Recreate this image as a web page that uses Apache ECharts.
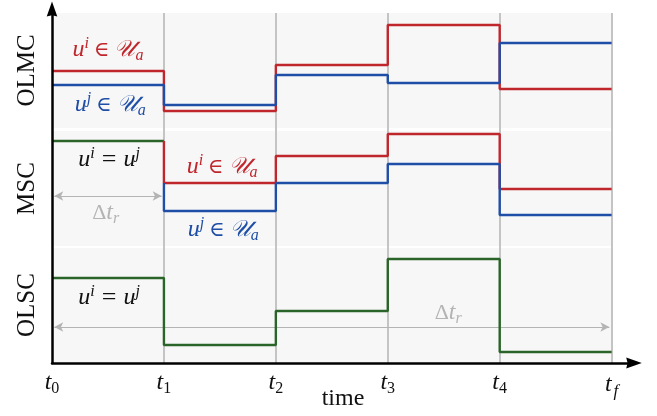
<!DOCTYPE html>
<html>
<head>
<meta charset="utf-8">
<script src="https://cdn.jsdelivr.net/npm/echarts@6/dist/echarts.min.js"></script>
<style>
html, body { margin: 0; padding: 0; background: #fff; }
#chart { width: 657px; height: 416px; }
</style>
</head>
<body>
<div id="chart"></div>
<script>
// time instants t0 .. tf
var tickLabels = ['0', '1', '2', '3', '4', 'f'];
var bandNames = ['OLMC', 'MSC', 'OLSC'];
// band ranges on the value axis (bottom, top)
var bandRanges = [[235, 350], [117, 232], [1, 115]];

// OLMC: both agents act on their own
var olmcRed = [292, 252, 298, 338, 274];
var olmcBlue = [278, 258, 288, 280, 320];
// MSC: shared first interval, then separate
var mscShared = [222];
var mscRed = [180, 207, 229, 174];
var mscBlue = [152, 180, 199, 148];
// OLSC: shared over the whole horizon
var olscShared = [85, 18, 52, 104, 11];

var RED = '#c0272d', BLUE = '#1f4ea6', GREEN = '#2a6428', GREY = '#b4b4b4';
var SERIF = '"Liberation Serif", "DejaVu Serif", serif';
var ARROW = 'path://M0,0 L6,17 L0,15.5 L-6,17 Z';

// build points for a step line (step: 'end'), starting at x0,
// optionally dropping from a previous level first
function stepPts(x0, vals, from) {
    var pts = [];
    if (from != null) pts.push([x0, from]);
    vals.forEach(function (v, i) { pts.push([x0 + i, v]); });
    pts.push([x0 + vals.length, vals[vals.length - 1]]);
    return pts;
}

function stepSeries(data, color) {
    return {
        type: 'line', step: 'end', data: data, symbol: 'none',
        lineStyle: { color: color, width: 2.4 }, z: 5, silent: true
    };
}

var myChart = echarts.init(document.getElementById('chart'));

var option = {
    animation: false,
    grid: { left: 52, right: 23, top: 13, bottom: 53, outerBoundsMode: 'none', containLabel: false },
    xAxis: {
        type: 'value', min: 0, max: 5.2, interval: 1, z: 10,
        name: 'time', nameLocation: 'middle', nameGap: 24, nameMoveOverlap: false,
        nameTextStyle: { fontFamily: SERIF, fontSize: 24, color: '#111' },
        axisLine: {
            show: true, onZero: false,
            lineStyle: { color: '#000', width: 2.5 },
            symbol: ['none', ARROW], symbolSize: [11, 17], symbolOffset: [0, 0]
        },
        axisTick: { show: false },
        splitLine: { show: false },
        axisLabel: {
            margin: 6,
            formatter: function (v) {
                if (v !== Math.round(v) || v > 5) return '';
                var sub = tickLabels[v];
                return '{t|t}{' + (sub === 'f' ? 'sf' : 's') + '|' + sub + '}';
            },
            rich: {
                t: { fontFamily: SERIF, fontStyle: 'italic', fontSize: 24, color: '#111' },
                s: { fontFamily: SERIF, fontSize: 16, color: '#111', padding: [12, 0, 0, 0] },
                sf: { fontFamily: SERIF, fontStyle: 'italic', fontSize: 17, color: '#111', padding: [14, 0, 0, 2] }
            }
        }
    },
    yAxis: {
        type: 'value', min: 0, max: 350, z: 10,
        axisLine: {
            show: true,
            lineStyle: { color: '#000', width: 2.5 },
            symbol: ['none', ARROW], symbolSize: [12, 15], symbolOffset: [0, 4]
        },
        axisTick: { show: false },
        axisLabel: { show: false },
        splitLine: { show: false }
    },
    series: [
        {
            type: 'line', data: [], silent: true, z: 1,
            markArea: {
                silent: true,
                label: { show: false },
                itemStyle: { color: '#f7f7f7', borderWidth: 0 },
                data: bandRanges.map(function (r) {
                    return [{ coord: [0, r[0]] }, { coord: [5, r[1]] }];
                })
            },
            markLine: {
                silent: true, symbol: 'none', label: { show: false },
                lineStyle: { color: '#c4c4c4', width: 2, type: 'solid' },
                data: [1, 2, 3, 4, 5].map(function (x) { return { xAxis: x }; })
            }
        },
        {
            type: 'line', data: [], silent: true, z: 2,
            markLine: {
                silent: true, symbol: ['arrow', 'arrow'], symbolSize: [7, 9],
                label: { show: false },
                lineStyle: { color: GREY, width: 1.2, type: 'solid' },
                data: [
                    [{ coord: [0.02, 167] }, { coord: [0.98, 167] }],
                    [{ coord: [0.02, 36] }, { coord: [4.98, 36] }]
                ]
            }
        },
        stepSeries(stepPts(0, olmcRed), RED),
        stepSeries(stepPts(0, olmcBlue), BLUE),
        stepSeries(stepPts(0, mscShared), GREEN),
        stepSeries(stepPts(1, mscRed, mscShared[0]), RED),
        stepSeries(stepPts(1, mscBlue, mscRed[0]), BLUE),
        stepSeries(stepPts(0, olscShared), GREEN)
    ]
};
myChart.setOption(option);

// text annotations, anchored in data coordinates
var memberRich = function (color) {
    return {
        u: { fontFamily: SERIF, fontStyle: 'italic', fontSize: 24, fill: color },
        sp: { fontFamily: SERIF, fontStyle: 'italic', fontSize: 16, fill: color, padding: [0, 0, 12, 0] },
        op: { fontFamily: SERIF, fontSize: 21, fill: color, padding: [0, 5, 0, 5] },
        eq: { fontFamily: SERIF, fontSize: 26, fill: color, padding: [0, 7, 0, 7] },
        U: { fontFamily: SERIF, fontStyle: 'italic', fontSize: 23, fill: color },
        sb: { fontFamily: SERIF, fontStyle: 'italic', fontSize: 16, fill: color, padding: [11, 0, 0, 0] },
        d: { fontFamily: SERIF, fontSize: 22, fill: color }
    };
};
var annotations = [
    { at: [0.5, 313], text: '{u|u}{sp|i}{op|∈}{U|𝒰}{sb|a}', color: RED },
    { at: [0.52, 258], text: '{u|u}{sp|j}{op|∈}{U|𝒰}{sb|a}', color: BLUE },
    { at: [0.51, 203], text: '{u|u}{sp|i}{eq|=}{u|u}{sp|j}', color: '#111' },
    { at: [0.48, 150], text: '{d|Δ}{u|t}{sb|r}', color: GREY },
    { at: [1.52, 196], text: '{u|u}{sp|i}{op|∈}{U|𝒰}{sb|a}', color: RED },
    { at: [1.53, 133], text: '{u|u}{sp|j}{op|∈}{U|𝒰}{sb|a}', color: BLUE },
    { at: [0.51, 65], text: '{u|u}{sp|i}{eq|=}{u|u}{sp|j}', color: '#111' },
    { at: [3.54, 50], text: '{d|Δ}{u|t}{sb|r}', color: GREY }
];
var graphics = annotations.map(function (a) {
    var p = myChart.convertToPixel({ gridIndex: 0 }, a.at);
    return {
        type: 'text', x: p[0], y: p[1], z: 10, silent: true,
        style: { text: a.text, rich: memberRich(a.color), align: 'center', verticalAlign: 'middle' }
    };
});
// band names along the vertical axis
bandNames.forEach(function (name, i) {
    var r = bandRanges[i];
    var p = myChart.convertToPixel({ gridIndex: 0 }, [0, (r[0] + r[1]) / 2]);
    graphics.push({
        type: 'text', x: 27, y: p[1], rotation: Math.PI / 2, silent: true,
        style: {
            text: name, fontFamily: SERIF, fontSize: 25, fill: '#111',
            align: 'center', verticalAlign: 'middle'
        }
    });
});
myChart.setOption({ graphic: graphics });
</script>
</body>
</html>
